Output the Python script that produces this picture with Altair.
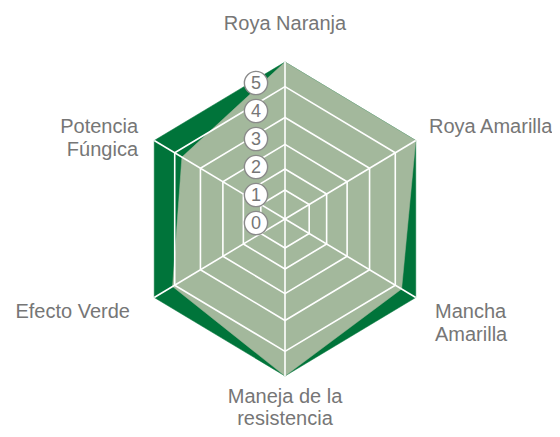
import math
import altair as alt
import pandas as pd

# ---- data ----
categories = ["Roya Naranja", "Roya Amarilla", "Mancha Amarilla",
              "Maneja de la resistencia", "Efecto Verde", "Potencia Fúngica"]
label_text = ["Roya Naranja", "Roya Amarilla", "Mancha\nAmarilla",
              "Maneja de la\nresistencia", "Efecto Verde", "Potencia\nFúngica"]
scores = [5.0, 5.0, 4.35, 5.0, 4.16, 3.73]      # product profile (0-5)
max_score = 5
tick_values = [0, 1, 2, 3, 4, 5]
ring_scores = [0.11, 0.91, 1.85, 2.88, 4.06]     # white grid rings (score units)

# ---- style / layout ----
DARK = "#00743a"
LIGHT = "#a3b89c"
GRAY = "#767676"
FONT = "Liberation Sans"
label_layout = [  # (x, y, align, line height) in radial units
    (0.0, 7.22, "center", 21.5),
    (5.72, 3.29, "left", 23.5),
    (5.96, -3.78, "left", 23.5),
    (0.0, -7.05, "center", 21.5),
    (-6.16, -3.78, "right", 23.5),
    (-5.84, 3.29, "right", 23.5),
]

n = len(categories)


def radial(score):
    return score + 1.0  # score 0 sits on the innermost ring, 5 on the rim


def polygon(name, values):
    rows = []
    for i, v in enumerate(values):
        a = 2 * math.pi * i / n
        r = radial(v)
        rows.append({"poly": name, "i": i, "x": r * math.sin(a), "y": r * math.cos(a)})
    return rows


outer_df = pd.DataFrame(polygon("outer", [max_score] * n))
data_df = pd.DataFrame(polygon("data", scores))
rings_df = pd.DataFrame(sum([polygon(f"ring{k}", [s] * n) for k, s in enumerate(ring_scores)], []))
spokes_df = pd.DataFrame([
    {"x": 0.0, "y": 0.0,
     "x2": radial(max_score) * math.sin(2 * math.pi * i / n),
     "y2": radial(max_score) * math.cos(2 * math.pi * i / n)}
    for i in range(n)
])
ticks_df = pd.DataFrame({"v": tick_values, "t": [str(v) for v in tick_values]})
labels_df = pd.DataFrame({
    "label": label_text,
    "x": [p[0] for p in label_layout],
    "y": [p[1] for p in label_layout],
    "align": [p[2] for p in label_layout],
    "lh": [p[3] for p in label_layout],
})

xs = alt.Scale(domain=[-6, 6], range=[126, 428], nice=False, zero=False)
ys = alt.Scale(domain=[-6, 6], range=[368, 54], nice=False, zero=False)
X = alt.X("x:Q", scale=xs, axis=None)
Y = alt.Y("y:Q", scale=ys, axis=None)

outer = alt.Chart(outer_df).mark_line(
    interpolate="linear-closed", fill=DARK, stroke=DARK, strokeWidth=0.5
).encode(x=X, y=Y, order="i:Q")

inner = alt.Chart(data_df).mark_line(
    interpolate="linear-closed", fill=LIGHT, stroke=LIGHT, strokeWidth=0.5
).encode(x=X, y=Y, order="i:Q")

rings = alt.Chart(rings_df).mark_line(
    interpolate="linear-closed", stroke="white", strokeWidth=1.6
).encode(x=X, y=Y, order="i:Q", detail="poly:N")

spokes = alt.Chart(spokes_df).mark_rule(stroke="white", strokeWidth=1.6).encode(
    x=X, y=Y, x2="x2:Q", y2="y2:Q"
)

label_layers = [
    alt.Chart(labels_df).transform_filter(
        (alt.datum.align == al) & (alt.datum.lh == lh)
    ).mark_text(
        font=FONT, fontSize=20, color=GRAY, baseline="alphabetic", lineBreak="\n",
        lineHeight=lh, align=al
    ).encode(x=X, y=Y, text="label:N")
    for al, lh in [("left", 23.5), ("center", 21.5), ("right", 23.5)]
]

vs = alt.Scale(domain=[0, 5], range=[215, 75], nice=False, zero=False)
tick_circles = alt.Chart(ticks_df).mark_point(
    shape="circle", size=540, filled=True, fill="white", stroke="#8a8a8a",
    strokeWidth=1.4, opacity=1
).encode(x=alt.value(248), y=alt.Y("v:Q", scale=vs, axis=None))
tick_text = alt.Chart(ticks_df).mark_text(
    font=FONT, fontSize=18, color=GRAY, baseline="middle", align="center", dy=1
).encode(x=alt.value(248), y=alt.Y("v:Q", scale=vs, axis=None), text="t:N")

base = alt.layer(outer, inner, rings, spokes, *label_layers)
ticks = alt.layer(tick_circles, tick_text)

chart = alt.layer(base, ticks).resolve_scale(y="independent").properties(
    width=544, height=421, padding=0,
    autosize=alt.AutoSizeParams(type="none"),
).configure_view(stroke=None)

chart.save("out.html", embed_options={"renderer": "svg", "actions": False})
